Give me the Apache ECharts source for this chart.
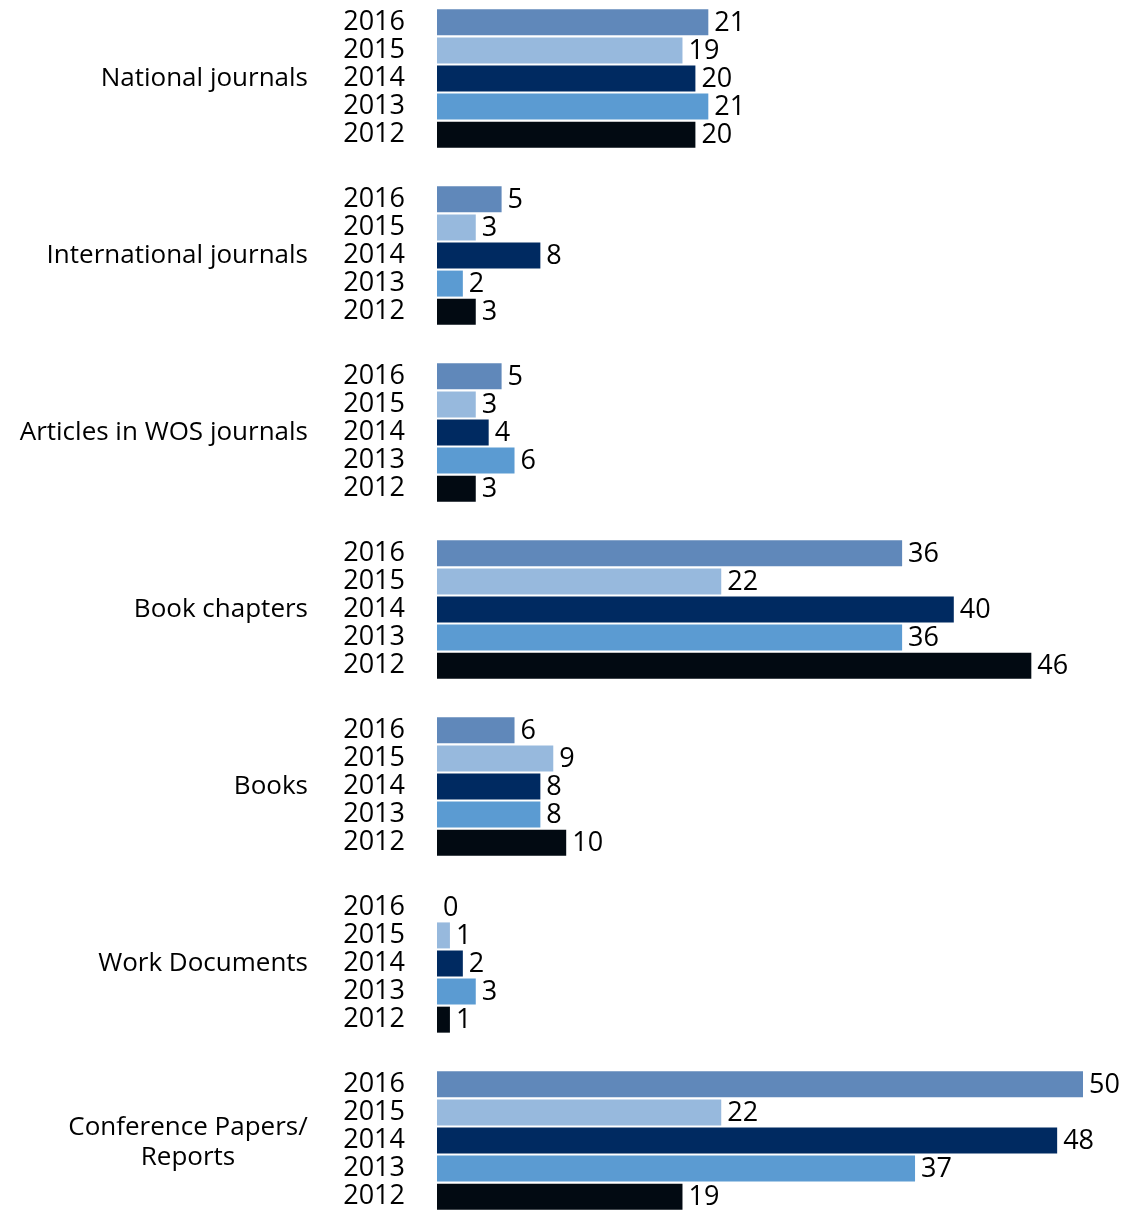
<!DOCTYPE html>
<html>
<head>
<meta charset="utf-8">
<script src="https://cdn.jsdelivr.net/npm/echarts@6/dist/echarts.min.js"></script>
<style>
html,body{margin:0;padding:0;background:#fff;overflow:hidden;width:1130px;height:1214px;position:relative;}
#chart{position:absolute;left:0;top:-10px;width:1130px;height:1239px;}
</style>
</head>
<body>
<div id="chart"></div>
<script>
const categories = ['National journals', 'International journals', 'Articles in WOS journals', 'Book chapters', 'Books', 'Work Documents', 'Conference Papers/\nReports'];
const years = ['2016', '2015', '2014', '2013', '2012'];
const v2016 = [21, 5, 5, 36, 6, 0, 50];
const v2015 = [19, 3, 3, 22, 9, 1, 22];
const v2014 = [20, 8, 4, 40, 8, 2, 48];
const v2013 = [21, 2, 6, 36, 8, 3, 37];
const v2012 = [20, 3, 3, 46, 10, 1, 19];
const seriesValues = [v2016, v2015, v2014, v2013, v2012];
const colors = ['#6088ba', '#97b9dd', '#002a61', '#5b9bd2', '#020a12'];

const NUM_FONT = 'Open Sans';
const NUM_FS = 27;
const CAT_FONT = 'Open Sans';
const CAT_FS = 26;

const series = [];
years.forEach((yr, i) => {
  series.push({
    name: yr + '-label',
    type: 'bar',
    stack: 's' + yr,
    data: categories.map(() => 0),
    barWidth: 26,
    barGap: '8%',
    itemStyle: { color: 'transparent' },
    label: {
      show: true, position: 'left', distance: 32,
      formatter: yr, color: '#000', fontFamily: NUM_FONT, fontSize: NUM_FS
    },
    silent: true
  });
  series.push({
    name: yr,
    type: 'bar',
    stack: 's' + yr,
    data: seriesValues[i],
    barWidth: 26,
    barGap: '8%',
    itemStyle: { color: colors[i] },
    label: {
      show: true, position: 'right', distance: 6, offset: [0, 1],
      color: '#000', fontFamily: NUM_FONT, fontSize: NUM_FS
    }
  });
});

const chart = echarts.init(document.getElementById('chart'));
chart.setOption({
  animation: false,
  backgroundColor: '#fff',
  grid: { left: 437, right: 47, top: 0, bottom: 0, containLabel: false },
  xAxis: { type: 'value', min: 0, max: 50, show: false },
  yAxis: {
    type: 'category', data: categories, inverse: true,
    axisLine: { show: false }, axisTick: { show: false }, splitLine: { show: false },
    axisLabel: {
      margin: 129, color: '#000', fontFamily: CAT_FONT, fontSize: CAT_FS, lineHeight: 35,
      formatter: function (v) {
        if (v.indexOf('\n') >= 0) {
          const parts = v.split('\n');
          return parts.map((s, k) => (k === 0 ? '{d|' : '{c|') + s + '}').join('\n');
        }
        return v;
      },
      rich: {
        d: { width: 240, align: 'center', fontFamily: CAT_FONT, fontSize: CAT_FS, lineHeight: 35, color: '#000', padding: [10, 0, 0, 0] },
        c: { width: 240, align: 'center', fontFamily: CAT_FONT, fontSize: CAT_FS, lineHeight: 35, color: '#000' }
      }
    }
  },
  series: series
});
</script>
</body>
</html>
